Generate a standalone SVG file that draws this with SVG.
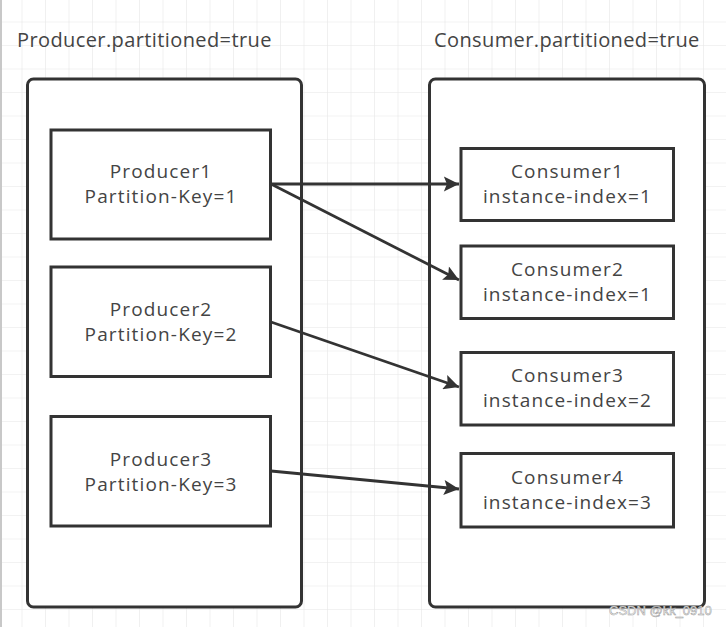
<svg xmlns="http://www.w3.org/2000/svg" width="726" height="627" viewBox="0 0 726 627">
  <defs>
    <pattern id="grid" x="21.5" y="21.5" width="23.5" height="23.5" patternUnits="userSpaceOnUse">
      <path d="M0 0H23.5M0 0V23.5" fill="none" stroke="#e6e6e6" stroke-width="1.2"/>
    </pattern>
    <marker id="arrow" viewBox="0 0 10 10" refX="10" refY="5" markerWidth="7.5" markerHeight="5.4" markerUnits="strokeWidth" orient="auto">
      <path d="M0 0L10 5L0 10L2 5Z" fill="#333"/>
    </marker>
    <style>
      .container { fill: #fff; stroke: #333; stroke-width: 3; }
      .node rect { fill: #fff; stroke: #333; stroke-width: 3; }
      .label { font-family: "Open Sans", "Noto Sans", "Liberation Sans", sans-serif; font-size: 19px; letter-spacing: 1.15px; fill: #444; text-anchor: middle; }
      .title { font-family: "Open Sans", "Noto Sans", "Liberation Sans", sans-serif; font-size: 20px; letter-spacing: 0.4px; fill: #444; }
      .conn line { stroke: #333; stroke-width: 2.8; marker-end: url(#arrow); }
      .wm { font-family: "Liberation Sans", "DejaVu Sans", sans-serif; font-size: 13px; fill: #fff; stroke: #999; stroke-width: 0.5; }
    </style>
  </defs>
  <rect width="726" height="627" fill="#fff"/>
  <rect width="726" height="627" fill="url(#grid)"/>
  <line x1="1" y1="0" x2="1" y2="627" stroke="#c8c8c8" stroke-width="2"/>

  <text class="title" x="17" y="47">Producer.partitioned=true</text>
  <text class="title" x="434" y="47">Consumer.partitioned=true</text>

  <g id="producer-group">
    <rect class="container" x="27.5" y="79" width="274" height="528" rx="6"/>
  </g>
  <g id="consumer-group">
    <rect class="container" x="429.5" y="79" width="275" height="528" rx="6"/>
  </g>

  <g id="producer1" class="node">
    <rect x="51" y="130" width="219.5" height="109"/>
    <text class="label" x="161" y="178">Producer1</text>
    <text class="label" x="161" y="203">Partition-Key=1</text>
  </g>
  <g id="producer2" class="node">
    <rect x="51" y="267" width="219.5" height="109.5"/>
    <text class="label" x="161" y="315.5">Producer2</text>
    <text class="label" x="161" y="340.5">Partition-Key=2</text>
  </g>
  <g id="producer3" class="node">
    <rect x="51" y="416.5" width="219.5" height="109.5"/>
    <text class="label" x="161" y="465.5">Producer3</text>
    <text class="label" x="161" y="490.5">Partition-Key=3</text>
  </g>

  <g id="consumer1" class="node">
    <rect x="461" y="148.5" width="212.5" height="72"/>
    <text class="label" x="567.5" y="178">Consumer1</text>
    <text class="label" x="567.5" y="203">instance-index=1</text>
  </g>
  <g id="consumer2" class="node">
    <rect x="461" y="246" width="212.5" height="72.5"/>
    <text class="label" x="567.5" y="276">Consumer2</text>
    <text class="label" x="567.5" y="301">instance-index=1</text>
  </g>
  <g id="consumer3" class="node">
    <rect x="461" y="352.5" width="212.5" height="72.5"/>
    <text class="label" x="567.5" y="382">Consumer3</text>
    <text class="label" x="567.5" y="407">instance-index=2</text>
  </g>
  <g id="consumer4" class="node">
    <rect x="461" y="453.5" width="212.5" height="73.5"/>
    <text class="label" x="567.5" y="483.5">Consumer4</text>
    <text class="label" x="567.5" y="508.5">instance-index=3</text>
  </g>

  <g id="connectors" class="conn">
    <line x1="271" y1="184" x2="459" y2="184"/>
    <line x1="271" y1="184" x2="459" y2="280"/>
    <line x1="271" y1="322" x2="459" y2="387"/>
    <line x1="271" y1="471" x2="459" y2="489"/>
  </g>

  <text class="wm" x="609" y="615">CSDN @kk_0910</text>
</svg>
